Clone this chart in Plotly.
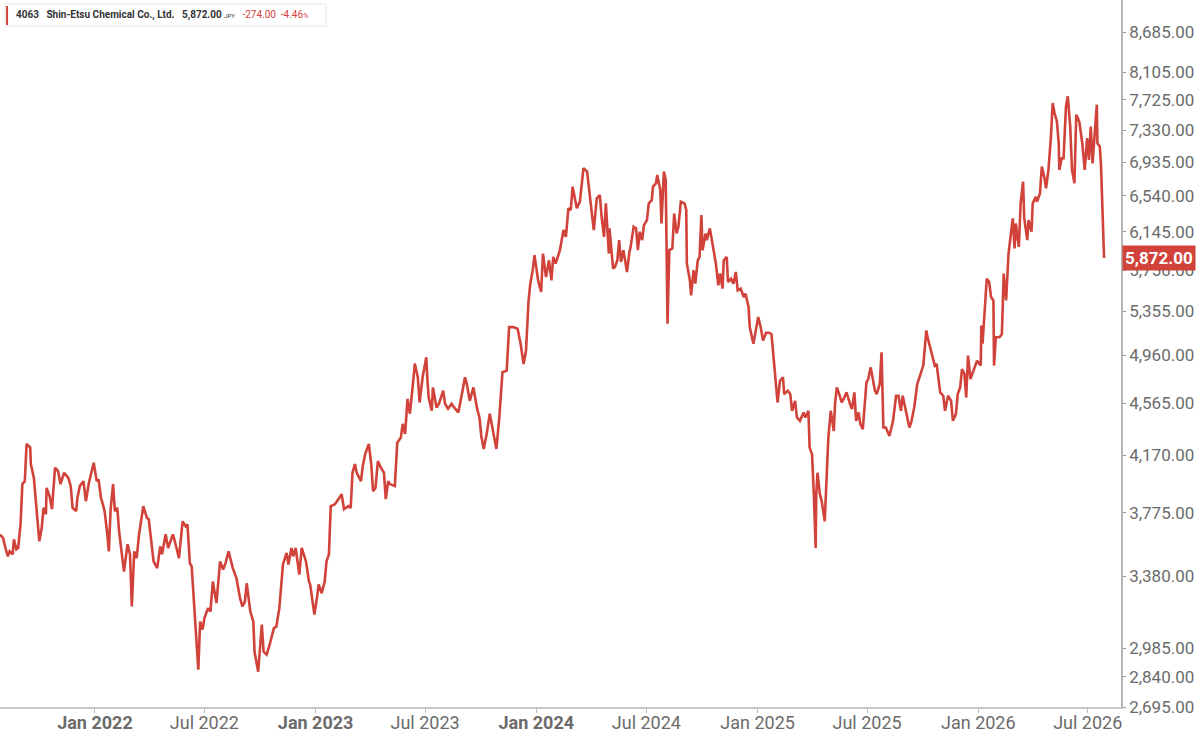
import math
import pandas as pd
import plotly.graph_objects as go

# Daily closes for 4063 Shin-Etsu Chemical (month-day per year)
days_2021 = ["07-28", "08-02", "08-06", "08-10", "08-13", "08-18", "08-20", "08-24", "08-27", "08-31",
             "09-03", "09-07", "09-10", "09-16", "09-17", "09-22", "10-01", "10-05", "10-08", "10-12",
             "10-13", "10-18", "10-22", "10-27", "11-01", "11-05", "11-11", "11-18", "11-22", "11-25",
             "12-01", "12-03", "12-07", "12-13", "12-17", "12-22", "12-30"]
close_2021 = [3635, 3613, 3551, 3500, 3530, 3512, 3605, 3543, 3551, 3700,
              3967, 3987, 4253, 4226, 4107, 4010, 3592, 3676, 3807, 3765,
              3941, 3885, 3798, 4081, 4058, 3967, 4046, 4010, 3953, 3807,
              3785, 3873, 3953, 3987, 3851, 3975, 4116]

days_2022 = ["01-04", "01-07", "01-11", "01-14", "01-17", "01-21", "01-24", "01-27", "01-31", "02-03",
             "02-07", "02-10", "02-18", "02-24", "02-28", "03-03", "03-07", "03-11", "03-15", "03-22",
             "03-28", "03-31", "04-05", "04-08", "04-14", "04-19", "04-22", "04-28", "05-02", "05-06",
             "05-10", "05-16", "05-20", "05-26", "05-31", "06-03", "06-07", "06-10", "06-17", "06-21",
             "06-24", "06-28", "07-01", "07-07", "07-11", "07-15", "07-21", "07-27", "08-01", "08-05",
             "08-10", "08-17", "08-23", "08-29", "09-02", "09-06", "09-09", "09-15", "09-20", "09-22",
             "09-28", "10-04", "10-07", "10-12", "10-17", "10-24", "10-28", "11-02", "11-08", "11-14",
             "11-17", "11-22", "11-25", "11-29", "12-05", "12-09", "12-16", "12-21", "12-23", "12-30"]
close_2022 = [3987, 3999, 3873, 3831, 3785, 3655, 3530, 3798, 3967, 3785,
              3807, 3655, 3409, 3574, 3512, 3208, 3530, 3489, 3636, 3818,
              3741, 3732, 3551, 3469, 3429, 3561, 3512, 3636, 3551, 3592,
              3636, 3551, 3489, 3719, 3687, 3700, 3459, 3439, 3056, 2875,
              3125, 3082, 3143, 3199, 3180, 3350, 3227, 3469, 3421, 3459,
              3530, 3429, 3370, 3255, 3208, 3236, 3340, 3180, 3125, 2966,
              2865, 3109, 2966, 2951, 3003, 3090, 3098, 3199, 3451, 3520,
              3451, 3551, 3500, 3551, 3391, 3551, 3469, 3350, 3333, 3164]

days_2023 = ["01-04", "01-06", "01-11", "01-16", "01-19", "01-23", "01-26", "02-02", "02-09", "02-13",
             "02-17", "02-24", "02-28", "03-03", "03-07", "03-10", "03-17", "03-20", "03-24", "03-30",
             "04-03", "04-06", "04-10", "04-14", "04-19", "04-24", "04-27", "05-01", "05-04", "05-12",
             "05-16", "05-22", "05-25", "05-29", "06-02", "06-06", "06-12", "06-14", "06-19", "06-22",
             "06-27", "07-03", "07-05", "07-07", "07-12", "07-14", "07-20", "07-24", "07-31", "08-03",
             "08-08", "08-14", "08-18", "08-25", "09-01", "09-05", "09-08", "09-13", "09-19", "09-25",
             "09-29", "10-02", "10-06", "10-11", "10-16", "10-19", "10-23", "10-27", "11-01", "11-06",
             "11-13", "11-17", "11-24", "12-01", "12-06", "12-11", "12-15", "12-19", "12-22", "12-26",
             "12-29"]
close_2023 = [3276, 3333, 3283, 3350, 3469, 3512, 3818, 3831, 3873, 3898,
              3798, 3818, 3807, 4046, 4107, 4046, 3987, 4093, 4179, 4253,
              4107, 3919, 3941, 4128, 4081, 4046, 3865, 3987, 3967, 3953,
              4262, 4300, 4404, 4328, 4599, 4482, 4774, 4889, 4774, 4570,
              4774, 4943, 4746, 4610, 4505, 4691, 4531, 4560, 4665, 4560,
              4521, 4560, 4531, 4492, 4665, 4774, 4721, 4583, 4691, 4521,
              4453, 4312, 4216, 4328, 4482, 4414, 4300, 4216, 4466, 4816,
              4830, 5208, 5208, 5193, 5060, 4886, 5000, 5439, 5616, 5748,
              5900]

days_2024 = ["01-04", "01-09", "01-12", "01-17", "01-22", "01-26", "01-29", "02-02", "02-09", "02-15",
             "02-19", "02-23", "02-27", "03-01", "03-05", "03-08", "03-13", "03-19", "03-25", "03-29",
             "04-02", "04-05", "04-10", "04-15", "04-18", "04-22", "04-25", "04-30", "05-01", "05-07",
             "05-10", "05-14", "05-17", "05-20", "05-24", "05-30", "06-03", "06-05", "06-10", "06-14",
             "06-17", "06-20", "06-24", "06-27", "07-02", "07-05", "07-10", "07-12", "07-17", "07-19",
             "07-24", "07-26", "07-30", "08-02", "08-05", "08-08", "08-13", "08-14", "08-16", "08-20",
             "08-23", "08-27", "09-02", "09-05", "09-06", "09-11", "09-13", "09-17", "09-20", "09-24",
             "09-27", "09-30", "10-02", "10-07", "10-09", "10-14", "10-16", "10-21", "10-24", "10-28",
             "10-31", "11-04", "11-06", "11-11", "11-13", "11-18", "11-22", "11-26", "11-29", "12-04",
             "12-09", "12-12", "12-17", "12-19", "12-25", "12-30"]
close_2024 = [5648, 5535, 5917, 5680, 5848, 5648, 5882, 5814, 5952, 6163,
              6091, 6400, 6381, 6645, 6511, 6400, 6473, 6861, 6821, 6567,
              6306, 6163, 6511, 6549, 6306, 6091, 6455, 5917, 6181, 5765,
              5781, 5848, 6056, 5831, 5952, 5731, 5934, 5986, 6199, 6181,
              5952, 6145, 6056, 6216, 6270, 6455, 6492, 6645, 6684, 6781,
              6607, 6234, 6821, 6722, 5238, 5952, 5969, 6091, 6343, 6127,
              6199, 6473, 6455, 6381, 5814, 5648, 5502, 5748, 5616, 5848,
              5882, 6325, 5952, 6127, 6056, 6181, 6108, 5952, 5814, 5600,
              5716, 5568, 5848, 5882, 5632, 5665, 5616, 5731, 5551, 5568,
              5487, 5519, 5393, 5208, 5060, 5208]

days_2025 = ["01-02", "01-06", "01-10", "01-15", "01-20", "01-24", "01-28", "01-31", "02-03", "02-07",
             "02-12", "02-14", "02-20", "02-24", "02-27", "03-04", "03-07", "03-12", "03-18", "03-21",
             "03-26", "03-28", "04-01", "04-04", "04-07", "04-08", "04-10", "04-14", "04-17", "04-22",
             "04-25", "04-28", "05-02", "05-07", "05-09", "05-12", "05-16", "05-20", "05-23", "05-28",
             "06-03", "06-06", "06-10", "06-13", "06-17", "06-20", "06-24", "06-26", "06-30", "07-03",
             "07-07", "07-10", "07-14", "07-17", "07-22", "07-25", "07-28", "08-01", "08-07", "08-13",
             "08-18", "08-22", "08-26", "08-29", "09-03", "09-09", "09-12", "09-17", "09-22", "09-26",
             "10-02", "10-07", "10-09", "10-14", "10-17", "10-21", "10-24", "10-30", "11-04", "11-07",
             "11-12", "11-17", "11-20", "11-25", "11-28", "12-02", "12-05", "12-09", "12-12", "12-15",
             "12-19", "12-25", "12-30"]
close_2025 = [5300, 5208, 5088, 5158, 5158, 5144, 4886, 4774, 4570, 4746,
              4774, 4637, 4665, 4637, 4505, 4583, 4453, 4427, 4492, 4453,
              4505, 4226, 4177, 3897, 3551, 3897, 4046, 3897, 3851, 3719,
              3987, 4300, 4505, 4350, 4557, 4691, 4637, 4570, 4596, 4651,
              4557, 4518, 4651, 4427, 4492, 4402, 4364, 4505, 4732, 4760,
              4857, 4774, 4665, 4637, 4719, 4986, 4376, 4376, 4312, 4427,
              4624, 4624, 4505, 4624, 4518, 4376, 4414, 4531, 4719, 4774,
              4872, 5178, 5118, 5015, 4943, 4872, 4886, 4651, 4624, 4505,
              4624, 4583, 4427, 4479, 4637, 4691, 4843, 4802, 4610, 4957,
              4760, 4843, 4914]

days_2026 = ["01-05", "01-06", "01-08", "01-13", "01-15", "01-19", "01-22", "01-26", "01-27", "01-30",
             "02-05", "02-09", "02-12", "02-16", "02-18", "02-20", "02-27", "03-02", "03-04", "03-09",
             "03-12", "03-16", "03-18", "03-23", "03-25", "03-30", "04-01", "04-06", "04-08", "04-13",
             "04-16", "04-20", "04-23", "04-27", "05-01", "05-04", "05-07", "05-11", "05-14", "05-15",
             "05-19", "05-22", "05-26", "05-29", "06-02", "06-05", "06-09", "06-12", "06-17", "06-22",
             "06-26", "06-30", "07-03", "07-06", "07-09", "07-13", "07-16", "07-17", "07-21", "07-23",
             "07-27", "07-28"]
close_2026 = [4872, 5223, 5060, 5487, 5665, 5632, 5487, 5455, 4872, 5118,
              5118, 5147, 5715, 5455, 5680, 5917, 6289, 5969, 6234, 5986,
              6455, 6702, 6289, 6056, 6270, 6145, 6455, 6530, 6473, 6567,
              6880, 6761, 6627, 6840, 7229, 7683, 7550, 7440, 7165, 6840,
              6981, 6981, 7638, 7772, 7376, 6840, 6684, 7527, 7440, 7165,
              6840, 7229, 6960, 7376, 6919, 7333, 7660, 7165, 7122, 6880,
              6146, 5872]

# right-hand price scale
y_ticks = [2695, 2840, 2985, 3380, 3775, 4170, 4565, 4960, 5355, 5750,
           6145, 6540, 6935, 7330, 7725, 8105, 8685]
x_ticks = ["2022-01-01", "2022-07-01", "2023-01-01", "2023-07-01", "2024-01-01",
           "2024-07-01", "2025-01-01", "2025-07-01", "2026-01-01", "2026-07-01"]
x_tick_text = ["<b>Jan 2022</b>", "Jul 2022", "<b>Jan 2023</b>", "Jul 2023", "<b>Jan 2024</b>",
               "Jul 2024", "Jan 2025", "Jul 2025", "Jan 2026", "Jul 2026"]

last_price = 5872.00
change = -274.00
change_pct = -4.46

RED = "#d1433a"
GREY_TEXT = "#6b6b6b"

dates = []
closes = []
for year, days, vals in [(2021, days_2021, close_2021), (2022, days_2022, close_2022),
                         (2023, days_2023, close_2023), (2024, days_2024, close_2024),
                         (2025, days_2025, close_2025), (2026, days_2026, close_2026)]:
    dates += [f"{year}-{d}" for d in days]
    closes += vals

df = pd.DataFrame({"date": pd.to_datetime(dates), "close": closes})

fig = go.Figure()
fig.add_trace(go.Scatter(
    x=df["date"], y=df["close"],
    mode="lines",
    line=dict(color=RED, width=2.6),
    hoverinfo="skip",
    showlegend=False,
))

fig.update_layout(
    width=1200, height=734,
    paper_bgcolor="white", plot_bgcolor="white",
    margin=dict(l=0, r=79, t=0, b=27, autoexpand=False),
    font=dict(family="Roboto, Arial, sans-serif", color=GREY_TEXT),
    xaxis=dict(
        type="date", automargin=False,
        range=["2021-07-28", "2026-08-25"],
        tickvals=x_ticks, ticktext=x_tick_text,
        tickfont=dict(size=18, color=GREY_TEXT),
        ticks="outside", ticklen=4, tickcolor="#bdbdbd",
        ticklabelstandoff=-5,
        showline=True, linecolor="#c8c8c8", linewidth=1.5,
        showgrid=False, zeroline=False,
    ),
    yaxis=dict(
        type="log", side="right", automargin=False,
        range=[math.log10(2695), math.log10(9185)],
        tickvals=y_ticks, ticktext=[f"{v:,.2f}" for v in y_ticks],
        tickfont=dict(size=17, color=GREY_TEXT),
        ticks="outside", ticklen=3, tickcolor="#999999",
        showline=True, linecolor="#b5b5b5", linewidth=1.5,
        showgrid=False, zeroline=False,
    ),
)

# last price marker on the price scale
fig.add_annotation(
    xref="paper", x=1, xanchor="left", xshift=1,
    yref="y", y=math.log10(last_price), yanchor="middle",
    text=f"<b>{last_price:,.2f}</b>",
    showarrow=False, align="left",
    bgcolor=RED, borderpad=2,
    font=dict(size=17, color="white"),
)

# quote header box, top left
fig.add_shape(type="rect", xref="paper", yref="paper",
              x0=0.0045, x1=0.2908, y0=0.9632, y1=0.9943,
              fillcolor="white", line=dict(color="#e6e6e6", width=1), layer="above")
fig.add_shape(type="rect", xref="paper", yref="paper",
              x0=0.0054, x1=0.0072, y0=0.9646, y1=0.9915,
              fillcolor=RED, line=dict(width=0), layer="above")
header = (
    "<b>4063</b>\u00a0\u00a0\u00a0<b>Shin-Etsu Chemical Co., Ltd.</b>\u00a0\u00a0\u00a0"
    f"<b>{last_price:,.2f}</b>\u00a0<span style='font-size:6px'>JPY</span>\u00a0\u00a0\u00a0"
    f"<span style='color:{RED}'>{change:,.2f}\u00a0\u00a0{change_pct:.2f}"
    "<span style='font-size:7px'>%</span></span>"
)
fig.add_annotation(
    xref="paper", yref="paper", x=0.0125, y=0.9788,
    xanchor="left", yanchor="middle",
    text=header, showarrow=False,
    font=dict(size=10, color="#333333"),
)

# page body has a default 8px margin; drop it so the figure fills the window
fig.write_html("out.html", config={"displayModeBar": False},
               post_script="document.body.style.margin='0px';")
